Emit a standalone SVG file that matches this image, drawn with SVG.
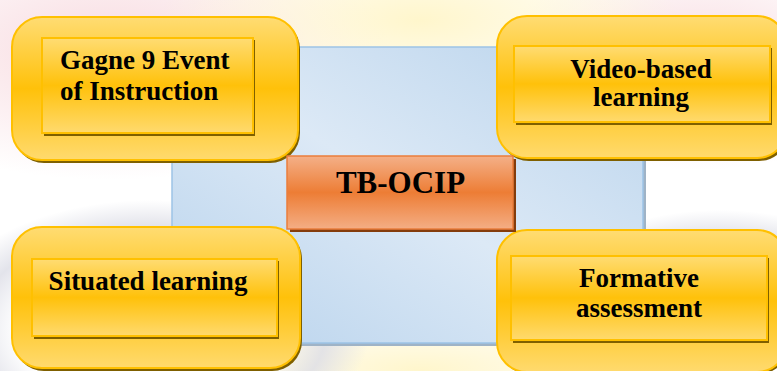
<svg xmlns="http://www.w3.org/2000/svg" width="777" height="371" viewBox="0 0 777 371">
<defs>
<linearGradient id="gold" x1="0" y1="0" x2="0" y2="1">
<stop offset="0" stop-color="#FFDC73"/><stop offset="0.5" stop-color="#FFC10A"/><stop offset="1" stop-color="#FFDA6E"/>
</linearGradient>
<linearGradient id="orange" x1="0" y1="0" x2="0" y2="1">
<stop offset="0" stop-color="#F4B088"/><stop offset="0.5" stop-color="#ED7D35"/><stop offset="1" stop-color="#F4AE85"/>
</linearGradient>
<linearGradient id="blue" x1="0" y1="1" x2="1" y2="0">
<stop offset="0" stop-color="#B7D2EC"/><stop offset="0.5" stop-color="#DCE9F6"/><stop offset="1" stop-color="#B9D3EC"/>
</linearGradient>
<radialGradient id="pink" cx="0.5" cy="0.5" r="0.5">
<stop offset="0" stop-color="#F7D6DC" stop-opacity="0.9"/><stop offset="1" stop-color="#F7D6DC" stop-opacity="0"/>
</radialGradient>
<radialGradient id="yel" cx="0.5" cy="0.5" r="0.5">
<stop offset="0" stop-color="#FFF6CC" stop-opacity="1"/><stop offset="1" stop-color="#FFF6CC" stop-opacity="0"/>
</radialGradient>
<radialGradient id="gray" cx="0.5" cy="0.5" r="0.5">
<stop offset="0.6" stop-color="#DCDDE6" stop-opacity="0"/><stop offset="0.8" stop-color="#DCDDE6" stop-opacity="0.8"/><stop offset="1" stop-color="#DCDDE6" stop-opacity="0"/>
</radialGradient>
</defs>
<style>
.outer{fill:url(#gold);stroke:#FFC000;stroke-width:2}
.inner{fill:url(#gold);stroke:#FFC000;stroke-width:2}
.shadow{fill:#7F6000}
.lbl{font-family:"Liberation Serif","Times New Roman",serif;font-weight:bold;font-size:27px;fill:#000}
.big{font-size:31px}
</style>
<rect width="777" height="371" fill="#FFFFFF"/>
<g id="background">
<ellipse cx="110" cy="50" rx="280" ry="130" fill="url(#pink)"/>
<ellipse cx="700" cy="60" rx="200" ry="110" fill="url(#pink)"/>
<ellipse cx="420" cy="20" rx="260" ry="90" fill="url(#yel)"/>
<ellipse cx="420" cy="370" rx="260" ry="60" fill="url(#yel)"/>
<ellipse cx="150" cy="330" rx="220" ry="130" fill="url(#gray)"/>
<ellipse cx="720" cy="330" rx="200" ry="120" fill="url(#gray)"/>
</g>
<g id="frame">
<rect x="174" y="49" width="472" height="297" fill="#9FB3C6"/>
<rect x="172" y="47" width="471" height="296" fill="url(#blue)" stroke="#9DC3E6" stroke-width="1.5"/>
</g>
<g id="connectors"></g>
<g id="node-gagne">
<rect x="14" y="19" width="286" height="144" rx="30" class="shadow"/>
<rect x="12" y="17" width="286" height="143" rx="30" class="outer"/>
<rect x="44" y="40" width="211" height="96" class="shadow"/>
<rect x="42" y="38" width="211" height="95" class="inner"/>
<text class="lbl" x="60" y="69">Gagne 9 Event</text>
<text class="lbl" x="60" y="100">of Instruction</text>
</g>
<g id="node-video">
<rect x="499" y="18" width="290" height="143" rx="30" class="shadow"/>
<rect x="497" y="16" width="290" height="142" rx="30" class="outer"/>
<rect x="516" y="48" width="256" height="77" class="shadow"/>
<rect x="514" y="46" width="256" height="76" class="inner"/>
<text class="lbl" x="641" y="78" text-anchor="middle">Video-based</text>
<text class="lbl" x="641" y="106" text-anchor="middle">learning</text>
</g>
<g id="node-situated">
<rect x="14" y="229" width="288" height="142" rx="30" class="shadow"/>
<rect x="12" y="227" width="288" height="141" rx="30" class="outer"/>
<rect x="34" y="261" width="245" height="78" class="shadow"/>
<rect x="32" y="259" width="245" height="77" class="inner"/>
<text class="lbl" x="148" y="290" text-anchor="middle">Situated learning</text>
</g>
<g id="node-formative">
<rect x="499" y="232" width="290" height="142" rx="30" class="shadow"/>
<rect x="497" y="230" width="290" height="142" rx="30" class="outer"/>
<rect x="513" y="258" width="256" height="85" class="shadow"/>
<rect x="511" y="256" width="256" height="84" class="inner"/>
<text class="lbl" x="639" y="287" text-anchor="middle">Formative</text>
<text class="lbl" x="639" y="317" text-anchor="middle">assessment</text>
</g>
<g id="node-center">
<rect x="290" y="159" width="226" height="73" fill="#843C0C"/>
<rect x="287" y="156" width="226" height="73" fill="url(#orange)" stroke="#EA7E3C" stroke-width="1.5"/>
<text class="lbl big" x="400.5" y="193" text-anchor="middle">TB-OCIP</text>
</g>
</svg>
